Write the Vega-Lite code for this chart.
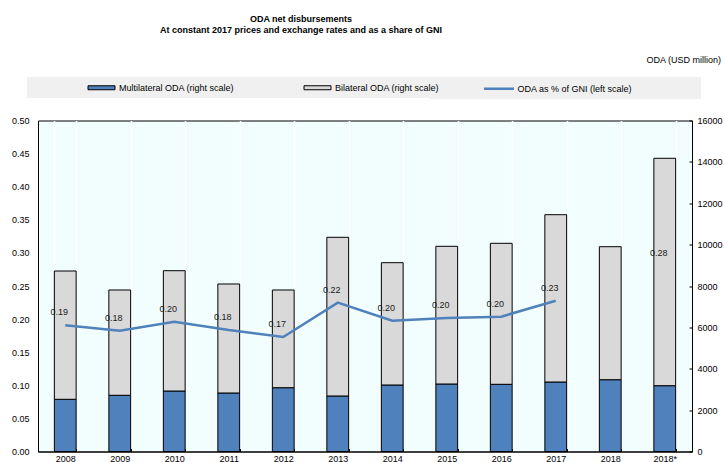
{
  "$schema": "https://vega.github.io/schema/vega-lite/v6.json",
  "autosize": "none",
  "width": 654,
  "height": 331,
  "padding": {"left": 38, "top": 120.5, "right": 32, "bottom": 10.5},
  "background": "#ffffff",
  "config": {
    "font": "Liberation Sans",
    "view": {"fill": "#F2FEFE", "stroke": "#000000", "strokeWidth": 1},
    "axis": {
      "labelFont": "Liberation Sans",
      "labelFontSize": 9,
      "labelColor": "#000000",
      "domainColor": "#000000",
      "tickColor": "#000000",
      "titleFont": "Liberation Sans",
      "titleFontSize": 9,
      "titleFontWeight": "normal",
      "titleColor": "#000000"
    },
    "legend": {
      "orient": "none",
      "direction": "horizontal",
      "fillColor": "#F0F0F0",
      "padding": 5,
      "titleFontSize": 9,
      "symbolSize": 100,
      "labelFont": "Liberation Sans",
      "labelFontSize": 9,
      "labelOffset": 12,
      "labelColor": "#000000",
      "labelLimit": 300
    }
  },
  "title": {
    "text": ["ODA net disbursements", "At constant 2017 prices and exchange rates and as a share of GNI"],
    "anchor": "middle",
    "frame": "group",
    "dx": -64,
    "offset": 20,
    "fontSize": 9,
    "fontWeight": "bold",
    "font": "Liberation Sans",
    "lineHeight": 11,
    "color": "#000000"
  },
  "datasets": {
    "bars": [
      {"year": "2008", "series": "Multilateral ODA (right scale)", "value": 2523},
      {"year": "2008", "series": "Bilateral ODA (right scale)", "value": 6202},
      {"year": "2009", "series": "Multilateral ODA (right scale)", "value": 2717},
      {"year": "2009", "series": "Bilateral ODA (right scale)", "value": 5090},
      {"year": "2010", "series": "Multilateral ODA (right scale)", "value": 2924},
      {"year": "2010", "series": "Bilateral ODA (right scale)", "value": 5816},
      {"year": "2011", "series": "Multilateral ODA (right scale)", "value": 2828},
      {"year": "2011", "series": "Bilateral ODA (right scale)", "value": 5269},
      {"year": "2012", "series": "Multilateral ODA (right scale)", "value": 3084},
      {"year": "2012", "series": "Bilateral ODA (right scale)", "value": 4723},
      {"year": "2013", "series": "Multilateral ODA (right scale)", "value": 2683},
      {"year": "2013", "series": "Bilateral ODA (right scale)", "value": 7671},
      {"year": "2014", "series": "Multilateral ODA (right scale)", "value": 3215},
      {"year": "2014", "series": "Bilateral ODA (right scale)", "value": 5912},
      {"year": "2015", "series": "Multilateral ODA (right scale)", "value": 3263},
      {"year": "2015", "series": "Bilateral ODA (right scale)", "value": 6656},
      {"year": "2016", "series": "Multilateral ODA (right scale)", "value": 3248},
      {"year": "2016", "series": "Bilateral ODA (right scale)", "value": 6816},
      {"year": "2017", "series": "Multilateral ODA (right scale)", "value": 3360},
      {"year": "2017", "series": "Bilateral ODA (right scale)", "value": 8087},
      {"year": "2018", "series": "Multilateral ODA (right scale)", "value": 3471},
      {"year": "2018", "series": "Bilateral ODA (right scale)", "value": 6429},
      {"year": "2018*", "series": "Multilateral ODA (right scale)", "value": 3181},
      {"year": "2018*", "series": "Bilateral ODA (right scale)", "value": 10992}
    ],
    "gni": [
      {"year": "2008", "gni": 0.1906},
      {"year": "2009", "gni": 0.1825},
      {"year": "2010", "gni": 0.196},
      {"year": "2011", "gni": 0.1835},
      {"year": "2012", "gni": 0.173},
      {"year": "2013", "gni": 0.2248},
      {"year": "2014", "gni": 0.1976},
      {"year": "2015", "gni": 0.2017},
      {"year": "2016", "gni": 0.2037},
      {"year": "2017", "gni": 0.2278},
      {"year": "2018*", "gni": 0.28}
    ]
  },
  "layer": [
    {
      "data": {"name": "bars"},
      "mark": {"type": "bar", "stroke": "#000000", "strokeWidth": 1},
      "encoding": {
        "x": {
          "field": "year",
          "type": "nominal",
          "scale": {"domain": ["2008", "2009", "2010", "2011", "2012", "2013", "2014", "2015", "2016", "2017", "2018", "2018*"], "paddingInner": 0.6, "paddingOuter": 0.3},
          "axis": {
            "title": null,
            "labelAngle": 0,
            "tickBand": "extent",
            "grid": true,
            "gridColor": "#ffffff",
            "gridWidth": 1.5,
            "tickSize": -3,
            "labelPadding": 6,
            "labelBaseline": "top"
          }
        },
        "y": {
          "field": "value",
          "type": "quantitative",
          "stack": "zero",
          "scale": {"domain": [0, 16000], "nice": false},
          "axis": {
            "orient": "right",
            "values": [0, 2000, 4000, 6000, 8000, 10000, 12000, 14000, 16000],
            "format": "d",
            "grid": false,
            "title": "ODA (USD million)",
            "titleAngle": 0,
            "titleX": -46,
            "titleY": -61.5,
            "titleAlign": "left",
            "titleBaseline": "middle",
            "tickSize": -3,
            "labelPadding": 8
          }
        },
        "fill": {
          "field": "series",
          "type": "nominal",
          "scale": {
            "domain": ["Multilateral ODA (right scale)", "Bilateral ODA (right scale)"],
            "range": ["#4F81BD", "#D9D9D9"]
          },
          "legend": {
            "legendX": -11,
            "legendY": -43.5,
            "title": " ",
            "titleOrient": "left",
            "titlePadding": 64,
            "columnPadding": 67,
            "symbolType": "M-2.7,-0.4H2.7V0.4H-2.7Z",
            "symbolStrokeColor": "#000000",
            "symbolStrokeWidth": 1,
            "symbolOpacity": 1,
            "zindex": 2
          }
        },
        "order": {"field": "series", "sort": "descending"}
      }
    },
    {
      "data": {"name": "gni"},
      "encoding": {
        "x": {"field": "year", "type": "nominal"},
        "y": {
          "field": "gni",
          "type": "quantitative",
          "scale": {"domain": [0, 0.5], "nice": false},
          "axis": {
            "orient": "left",
            "values": [0, 0.05, 0.1, 0.15, 0.2, 0.25, 0.3, 0.35, 0.4, 0.45, 0.5],
            "format": ".2f",
            "title": null,
            "grid": false,
            "tickSize": 0,
            "labelPadding": 9
          }
        }
      },
      "layer": [
        {
          "transform": [{"filter": "datum.year !== '2018*'"}],
          "mark": {"type": "line", "strokeWidth": 2.5},
          "encoding": {
            "stroke": {
              "datum": "ODA as % of GNI (left scale)",
              "type": "nominal",
              "scale": {"domain": [" ", "ODA as % of GNI (left scale)"], "range": ["transparent", "#4F81BD"]},
              "legend": {
                "legendX": 392,
                "legendY": -43.5,
                "title": " ",
                "titleOrient": "right",
                "titlePadding": 63.5,
                "columnPadding": 16.5,
                "symbolType": "M-3,0H3",
                "symbolStrokeWidth": 2.5,
                "symbolOpacity": 1,
                "zindex": 1
              }
            }
          }
        },
        {
          "mark": {"type": "text", "dx": -6, "dy": -13, "fontSize": 9, "font": "Liberation Sans", "color": "#1a1a1a"},
          "encoding": {"text": {"field": "gni", "type": "quantitative", "format": ".2f"}}
        }
      ]
    }
  ],
  "resolve": {"scale": {"y": "independent"}, "axis": {"y": "independent"}}
}
